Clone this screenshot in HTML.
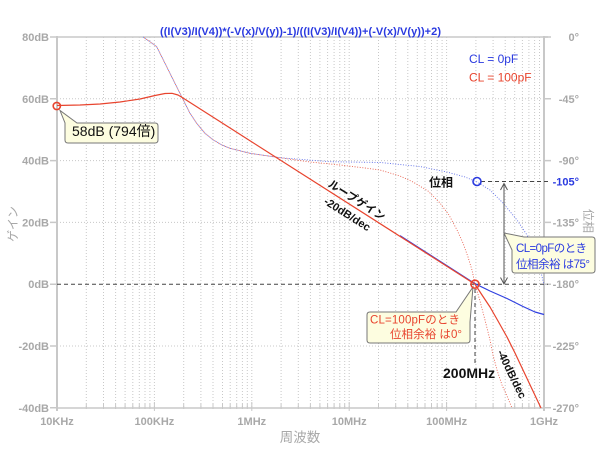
<!DOCTYPE html>
<html><head><meta charset="utf-8"><style>
html,body{margin:0;padding:0;background:#fff;}
svg{display:block;}
text{font-family:"Liberation Sans","Noto Sans CJK JP",sans-serif;}
</style></head><body>
<svg width="600" height="450" viewBox="0 0 600 450" xmlns="http://www.w3.org/2000/svg">
<rect width="600" height="450" fill="#fff"/>
<!-- vertical grid -->
<g stroke="#c8c8c8" stroke-width="1" stroke-dasharray="1,2" fill="none">
<path d="M86.3,37V408M103.5,37V408M115.6,37V408M125.1,37V408M132.8,37V408M139.3,37V408M145,37V408M149.9,37V408
M154.4,37V408
M183.7,37V408M200.9,37V408M213,37V408M222.5,37V408M230.2,37V408M236.7,37V408M242.4,37V408M247.3,37V408
M251.8,37V408
M281.1,37V408M298.3,37V408M310.4,37V408M319.9,37V408M327.6,37V408M334.1,37V408M339.8,37V408M344.7,37V408
M349.2,37V408
M378.5,37V408M395.7,37V408M407.8,37V408M417.3,37V408M425,37V408M431.5,37V408M437.2,37V408M442.1,37V408
M446.6,37V408
M475.9,37V408M493.1,37V408M505.2,37V408M514.7,37V408M522.4,37V408M528.9,37V408M534.6,37V408M539.5,37V408"/>
<path d="M57,98.8H544M57,160.6H544M57,222.4H544M57,346H544"/>
</g>
<!-- bottom small ticks -->
<g stroke="#c8c8c8" stroke-width="1">
<path d="M86.3,404V409M103.5,404V409M115.6,404V409M125.1,404V409M132.8,404V409M139.3,404V409M145,404V409M149.9,404V409M154.4,402V411
M183.7,404V409M200.9,404V409M213,404V409M222.5,404V409M230.2,404V409M236.7,404V409M242.4,404V409M247.3,404V409M251.8,402V411
M281.1,404V409M298.3,404V409M310.4,404V409M319.9,404V409M327.6,404V409M334.1,404V409M339.8,404V409M344.7,404V409M349.2,402V411
M378.5,404V409M395.7,404V409M407.8,404V409M417.3,404V409M425,404V409M431.5,404V409M437.2,404V409M442.1,404V409M446.6,402V411
M475.9,404V409M493.1,404V409M505.2,404V409M514.7,404V409M522.4,404V409M528.9,404V409M534.6,404V409M539.5,404V409"/>
</g>
<!-- frame -->
<g stroke="#c8c8c8" fill="none">
<path d="M57,37H548" stroke-width="1.5"/>
<path d="M57,408H544" stroke-width="1.5"/>
<path d="M57,36V411" stroke-width="2"/>
<path d="M544,36V411" stroke-width="2"/>
<path d="M50,37H57M50,98.8H57M50,160.6H57M50,222.4H57M50,284.2H57M50,346H57M50,407.8H57" stroke-width="1.5"/>
<path d="M544,37H551M544,98.8H551M544,160.6H551M544,222.4H551M544,284.2H551M544,346H551M544,407.8H551" stroke-width="1.5"/>
</g>
<!-- dashed black reference lines -->
<g stroke="#444" stroke-width="1" stroke-dasharray="4,3" fill="none">
<path d="M57,284.2H548"/>
<path d="M481,181.5H548"/>
<path d="M475,289V366"/>
</g>
<!-- phase dotted curves -->
<g fill="none" stroke-width="0.9" stroke-dasharray="1,1.6" stroke-linejoin="round">
<polyline stroke="#6070e8" points="143,37 150,41.7 156.7,46.7 165,63.3 173.3,80 183.3,100 190,113.3 196.7,123.3 205,133.3 213.3,140 222,145 230,148.3 250,153.3 280,157.7 330,161.7 380,162.5 420,166.5 447,172 465,177 477,182 490,190 503,203 517,220 527,235 535,252 540,268 544,285"/>
<polyline stroke="#e8604e" stroke-dashoffset="1.3" points="143,37 150,41.7 156.7,46.7 165,63.3 173.3,80 183.3,100 190,113.3 196.7,123.3 205,133.3 213.3,140 222,145 230,148.3 250,153.3 280,157.7 310,162 340,165 365,168 380,170 400,176 413,182 428,191 440,203 449,215 457,230 463,243 468,257 472,270 475,284 480,301 485,320 490,340 493,355 497,370 502,385 507,396 512,408"/>
</g>
<!-- gain curves -->
<g fill="none" stroke-width="1.2" stroke-linejoin="round">
<polyline stroke="#3040e0" points="400,235.6 474.5,283.4 490,291 507,298.5 523,306.5 535,312 544,314.5"/>
<polyline stroke="#e8442e" points="57,105.5 80,105 100,104 120,102 140,99 155,95.5 165,93.5 172,93.3 178,95 183,98 475,284.2 482,295 490,307 498,321 507,337 515,353 523,370 532,389 541,408"/>
</g>
<!-- double arrow -->
<g stroke="#555" stroke-width="1" fill="none">
<path d="M504,184V283"/>
<path d="M500.5,190L504,183.5L507.5,190"/>
<path d="M500.5,277.5L504,284L507.5,277.5"/>
</g>
<!-- callouts -->
<path d="M65,140 L65,123 L60,110.5 L77,123 L155,123 Q158,123 158,126 L158,140 Q158,143 155,143 L68,143 Q65,143 65,140 Z" fill="#fdfde0" stroke="#777" stroke-width="1"/>
<text x="72" y="136" font-size="14" fill="#111">58dB (794倍)</text>

<path d="M524,237 L592,237 Q595,237 595,240 L595,270 Q595,273 592,273 L515,273 Q512,273 512,270 L512,250 L504,233 Z" fill="#fdfde0" stroke="#777" stroke-width="1"/>
<text x="516" y="252" font-size="11.5" fill="#2a3ae0" textLength="71">CL=0pFのとき</text>
<text x="516" y="268" font-size="11.5" fill="#2a3ae0" textLength="74">位相余裕 は75°</text>

<path d="M370,312 L456,312 L473,287 L470,322 L470,340 Q470,343 467,343 L370,343 Q367,343 367,340 L367,315 Q367,312 370,312 Z" fill="#fdfde0" stroke="#777" stroke-width="1"/>
<text x="370" y="323.5" font-size="11.5" fill="#e8442e" textLength="90">CL=100pFのとき</text>
<text x="390" y="338" font-size="11.5" fill="#e8442e" textLength="72">位相余裕 は0°</text>

<!-- markers -->
<circle cx="56.8" cy="106" r="3.6" fill="none" stroke="#e8442e" stroke-width="1.6"/>
<circle cx="475" cy="284.2" r="4" fill="none" stroke="#e8442e" stroke-width="1.6"/>
<circle cx="477" cy="181.5" r="4" fill="none" stroke="#2a3ae0" stroke-width="1.6"/>

<!-- title -->
<text x="160" y="35" font-size="11" font-weight="bold" fill="#2a3ae0" textLength="281">((I(V3)/I(V4))*(-V(x)/V(y))-1)/((I(V3)/I(V4))+(-V(x)/V(y))+2)</text>

<!-- legend -->
<text x="469" y="63" font-size="12" fill="#2a3ae0">CL = 0pF</text>
<text x="469" y="81.5" font-size="12" fill="#e8442e">CL = 100pF</text>

<!-- left axis labels -->
<g font-size="11" font-weight="bold" fill="#a8a8a8" text-anchor="end">
<text x="49" y="41">80dB</text>
<text x="49" y="102.8">60dB</text>
<text x="49" y="164.6">40dB</text>
<text x="49" y="226.4">20dB</text>
<text x="49" y="288.2">0dB</text>
<text x="49" y="350">-20dB</text>
<text x="49" y="411.8">-40dB</text>
</g>
<!-- right axis labels -->
<g font-size="11" font-weight="bold" fill="#a8a8a8" text-anchor="end">
<text x="579" y="41">0°</text>
<text x="579" y="102.8">-45°</text>
<text x="579" y="164.6">-90°</text>
<text x="579" y="226.4">-135°</text>
<text x="579" y="288.2">-180°</text>
<text x="579" y="350">-225°</text>
<text x="579" y="411.8">-270°</text>
<text x="579" y="185.5" fill="#2a3ae0">-105°</text>
</g>
<!-- x labels -->
<g font-size="11" font-weight="bold" fill="#a8a8a8" text-anchor="middle">
<text x="57" y="425">10KHz</text>
<text x="154.4" y="425">100KHz</text>
<text x="251.8" y="425">1MHz</text>
<text x="349.2" y="425">10MHz</text>
<text x="446.6" y="425">100MHz</text>
<text x="544" y="425">1GHz</text>
</g>
<text x="300" y="442" font-size="13.5" fill="#a8a8a8" text-anchor="middle">周波数</text>
<text transform="translate(13,224) rotate(-90)" x="0" y="4" font-size="12" fill="#a8a8a8" text-anchor="middle">ゲイン</text>
<text transform="translate(588,221) rotate(90)" x="0" y="4" font-size="12" fill="#a8a8a8" text-anchor="middle">位相</text>

<!-- annotations -->
<text x="429" y="186.5" font-size="12" font-weight="bold" fill="#111">位相</text>
<text transform="translate(357,200) rotate(32.5)" x="0" y="4" font-size="11" font-weight="bold" fill="#111" text-anchor="middle">ループゲイン</text>
<text transform="translate(347.5,214) rotate(32.5)" x="0" y="4" font-size="11" font-weight="bold" fill="#111" text-anchor="middle">-20dB/dec</text>
<text transform="translate(512,374) rotate(64)" x="0" y="4" font-size="11" font-weight="bold" fill="#111" text-anchor="middle">-40dB/dec</text>
<text x="443" y="378" font-size="14" font-weight="bold" fill="#111">200MHz</text>
</svg>
</body></html>
